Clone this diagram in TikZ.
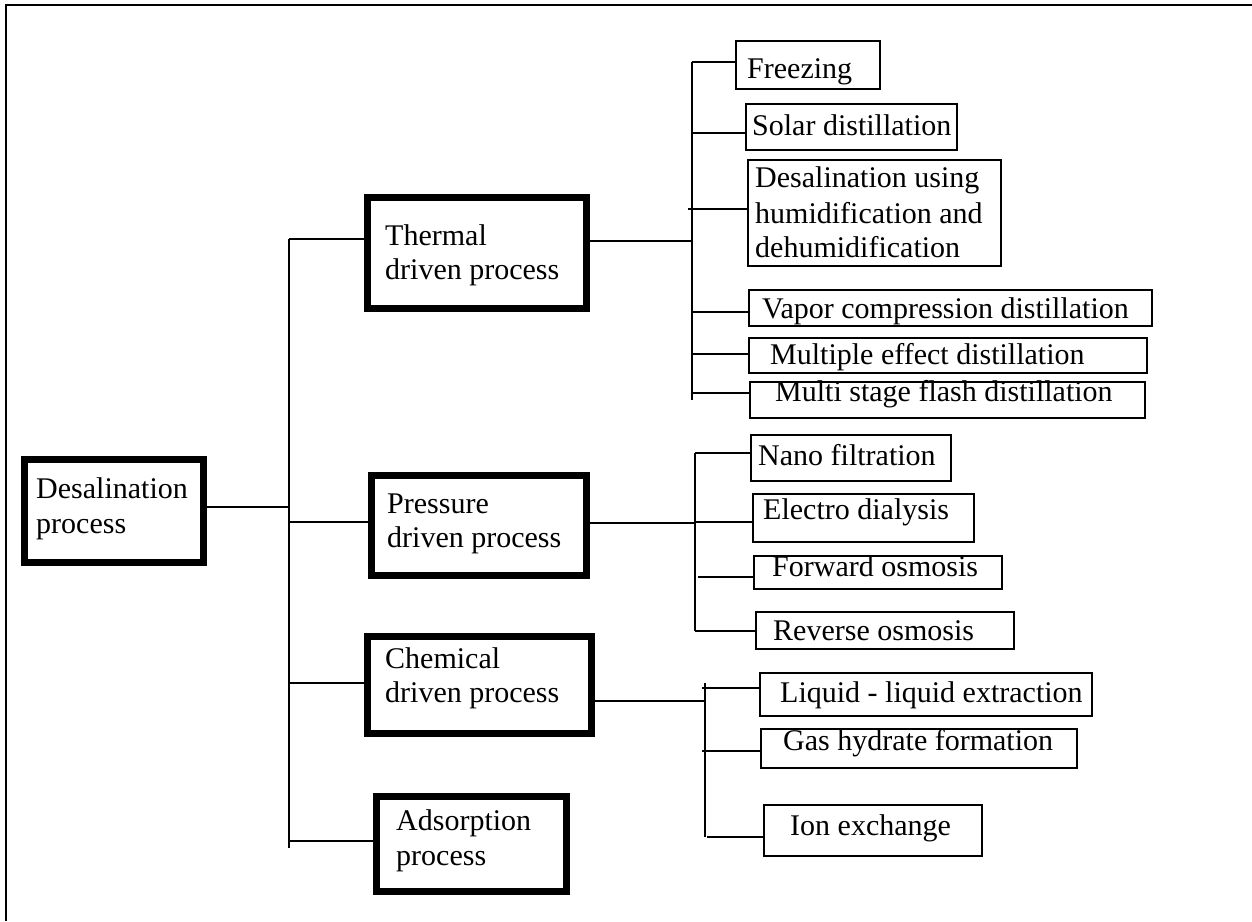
\documentclass[tikz,border=0pt]{standalone}
\usepackage{fontspec}
\setmainfont{Liberation Serif}
\newcommand\mkbox[7]{\node[#1, minimum width={#5-#3-#7}, minimum height={#6-#4-#7}] (#2) at ({(#3+#5)/2},{(#4+#6)/2}) {};}
\begin{document}
\begin{tikzpicture}[x=1pt,y=-1pt,
  thinbox/.style={draw, rectangle, line width=2pt, inner sep=0pt, outer sep=0pt},
  thickbox/.style={draw, rectangle, line width=7pt, inner sep=0pt, outer sep=0pt},
  conn/.style={line width=1.8pt},
  lbl/.style={anchor=base west, inner sep=0pt, font=\fontsize{30}{36}\selectfont}]
\useasboundingbox (0,0) rectangle (1252,921);
% frame
\draw[conn] (1252,5) -- (6,5) -- (6,921);
% main boxes
\mkbox{thickbox}{desal}{21}{456}{207}{566}{7}
\mkbox{thickbox}{thermal}{364}{194}{590}{312}{7}
\mkbox{thickbox}{pressure}{368}{472}{590}{579}{7}
\mkbox{thickbox}{chemical}{364}{633}{595}{737}{7}
\mkbox{thickbox}{adsorption}{373}{793}{570}{895}{7}
% leaf boxes
\mkbox{thinbox}{freezing}{735}{40}{881}{90}{2}
\mkbox{thinbox}{solar}{745}{103}{958}{151}{2}
\mkbox{thinbox}{humid}{747}{159}{1002}{267}{2}
\mkbox{thinbox}{vapor}{748}{289}{1153}{327}{2}
\mkbox{thinbox}{multeff}{748}{337}{1148}{374}{2}
\mkbox{thinbox}{msf}{749}{381}{1146}{419}{2}
\mkbox{thinbox}{nano}{750}{434}{952}{482}{2}
\mkbox{thinbox}{electro}{752}{493}{975}{543}{2}
\mkbox{thinbox}{forward}{753}{555}{1003}{590}{2}
\mkbox{thinbox}{reverse}{755}{611}{1015}{650}{2}
\mkbox{thinbox}{liquid}{759}{672}{1093}{717}{2}
\mkbox{thinbox}{gas}{760}{728}{1078}{769}{2}
\mkbox{thinbox}{ion}{763}{804}{983}{857}{2}
% labels
\node[lbl] (l1a) at (36,498) {Desalination};
\node[lbl] (l1b) at (36,533) {process};
\node[lbl] (l2a) at (385,245) {Thermal};
\node[lbl] (l2b) at (385,279) {driven process};
\node[lbl] (l3a) at (387,513) {Pressure};
\node[lbl] (l3b) at (387,547) {driven process};
\node[lbl] (l4a) at (385,668) {Chemical};
\node[lbl] (l4b) at (385,702) {driven process};
\node[lbl] (l5a) at (396,830) {Adsorption};
\node[lbl] (l5b) at (396,865) {process};
\node[lbl] (t1) at (747,78) {Freezing};
\node[lbl] (t2) at (752,135) {Solar distillation};
\node[lbl] (t3a) at (755,187) {Desalination using};
\node[lbl] (t3b) at (755,223) {humidification and};
\node[lbl] (t3c) at (755,257) {dehumidification};
\node[lbl] (t4) at (762,318) {Vapor compression distillation};
\node[lbl] (t5) at (770,364) {Multiple effect distillation};
\node[lbl] (t6) at (775,401) {Multi stage flash distillation};
\node[lbl] (p1) at (758,465) {Nano filtration};
\node[lbl] (p2) at (763,519) {Electro dialysis};
\node[lbl] (p3) at (772,576) {Forward osmosis};
\node[lbl] (p4) at (773,640) {Reverse osmosis};
\node[lbl] (c1) at (780,702) {Liquid - liquid extraction};
\node[lbl] (c2) at (783,750) {Gas hydrate formation};
\node[lbl] (c3) at (790,835) {Ion exchange};
% main trunk
\coordinate (jT) at (289,239);
\coordinate (jD) at (289,507);
\coordinate (jP) at (289,522);
\coordinate (jC) at (289,683);
\coordinate (jA) at (289,841);
\coordinate (jEnd) at (289,848);
\draw[conn] (jT) -- (jEnd);
\draw[conn] (desal.east |- jD) -- (jD);
\draw[conn] (jT) -- (thermal.west |- jT);
\draw[conn] (jP) -- (pressure.west |- jP);
\draw[conn] (jC) -- (chemical.west |- jC);
\draw[conn] (jA) -- (adsorption.west |- jA);
% thermal branch
\coordinate (sT) at (692,241);
\coordinate (sTtop) at (692,62);
\coordinate (sTbot) at (692,400);
\coordinate (bT2) at (692,133);
\coordinate (bT3) at (688,209);
\coordinate (bT4) at (692,312);
\coordinate (bT5) at (692,354);
\coordinate (bT6) at (692,393);
\draw[conn] (thermal.east |- sT) -- (sT);
\draw[conn] (sTtop) -- (sTbot);
\draw[conn] (sTtop) -- (freezing.west |- sTtop);
\draw[conn] (bT2) -- (solar.west |- bT2);
\draw[conn] (bT3) -- (humid.west |- bT3);
\draw[conn] (bT4) -- (vapor.west |- bT4);
\draw[conn] (bT5) -- (multeff.west |- bT5);
\draw[conn] (bT6) -- (msf.west |- bT6);
% pressure branch
\coordinate (sP) at (695,523);
\coordinate (sPtop) at (695,453);
\coordinate (sPbot) at (695,631);
\coordinate (bP2) at (695,522);
\coordinate (bP3) at (698,577);
\draw[conn] (pressure.east |- sP) -- (sP);
\draw[conn] (sPtop) -- (sPbot);
\draw[conn] (sPtop) -- (nano.west |- sPtop);
\draw[conn] (bP2) -- (electro.west |- bP2);
\draw[conn] (bP3) -- (forward.west |- bP3);
\draw[conn] (sPbot) -- (reverse.west |- sPbot);
% chemical branch
\coordinate (sC) at (705,701);
\coordinate (sCtop) at (705,683);
\coordinate (sCbot) at (705,837);
\coordinate (bC1) at (702,688);
\coordinate (bC2) at (702,751);
\coordinate (bC3) at (707,837);
\draw[conn] (chemical.east |- sC) -- (sC);
\draw[conn] (sCtop) -- (sCbot);
\draw[conn] (bC1) -- (liquid.west |- bC1);
\draw[conn] (bC2) -- (gas.west |- bC2);
\draw[conn] (bC3) -- (ion.west |- bC3);
\end{tikzpicture}
\end{document}
